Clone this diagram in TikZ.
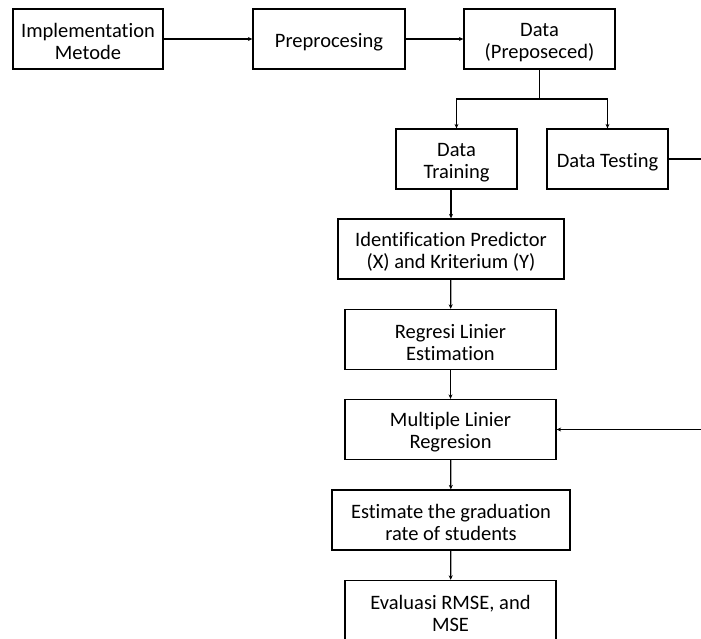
\documentclass[tikz,border=0pt]{standalone}
\usepackage{fontspec}
\setmainfont{Carlito}[Ligatures={NoCommon}]
\usetikzlibrary{arrows.meta}
\newcommand\liftline{\rule{0pt}{20pt}}
\begin{document}
\begin{tikzpicture}[x=1pt,y=-1pt,
  box/.style={draw=black,line width=1.3pt,minimum height=60pt,align=center,inner sep=0pt,
    font=\fontsize{20.5}{22}\selectfont},
  conn/.style={line width=1.3pt,-{Stealth[length=4.5pt,width=4pt]}},
  plain/.style={line width=1.3pt}]
\useasboundingbox (0,0) rectangle (701,638);
\clip (0,0) rectangle (701,638);
\node[box,minimum width=150pt] (impl) at (88,39) {\liftline Implementation\\Metode};
\node[box,minimum width=152pt] (prep) at (329,39) {\liftline Preprocesing};
\node[box,minimum width=151pt] (data) at (539.5,39) {\liftline Data\\(Preposeced)};
\node[box,minimum width=121pt] (train) at (456.5,159) {\liftline Data\\Training};
\node[box,minimum width=121pt] (test) at (607.5,159) {\liftline Data Testing};
\node[box,minimum width=226pt] (ident) at (451,249) {\liftline Identification Predictor\\(X) and Kriterium (Y)};
\node[box,minimum width=211pt] (regl) at (450.5,339.5) {\liftline Regresi Linier\\Estimation};
\node[box,minimum width=211pt] (mult) at (450.5,429.5) {\liftline Multiple Linier\\Regresion};
\node[box,minimum width=238pt] (est) at (451,520) {\liftline Estimate the graduation\\rate of students};
\node[box,minimum width=211pt] (eval) at (450.5,610.5) {\liftline Evaluasi RMSE, and\\MSE};
\coordinate (split) at (539.5,99);
\coordinate (outA) at (701,159);
\coordinate (outB) at (701,429.5);
\draw[conn] (impl) -- (prep);
\draw[conn] (prep) -- (data);
\draw[plain] (data.south) -- (split);
\draw[conn] (split) -| (train.north);
\draw[conn] (split) -| (test.north);
\draw[plain] (test.east) -- (outA);
\draw[conn] (train.south -| ident.north) -- (ident.north);
\draw[conn] (ident) -- (regl);
\draw[conn] (regl) -- (mult);
\draw[conn] (outB) -- (mult.east);
\draw[conn] (mult) -- (est);
\draw[conn] (est) -- (eval);
\end{tikzpicture}
\end{document}
